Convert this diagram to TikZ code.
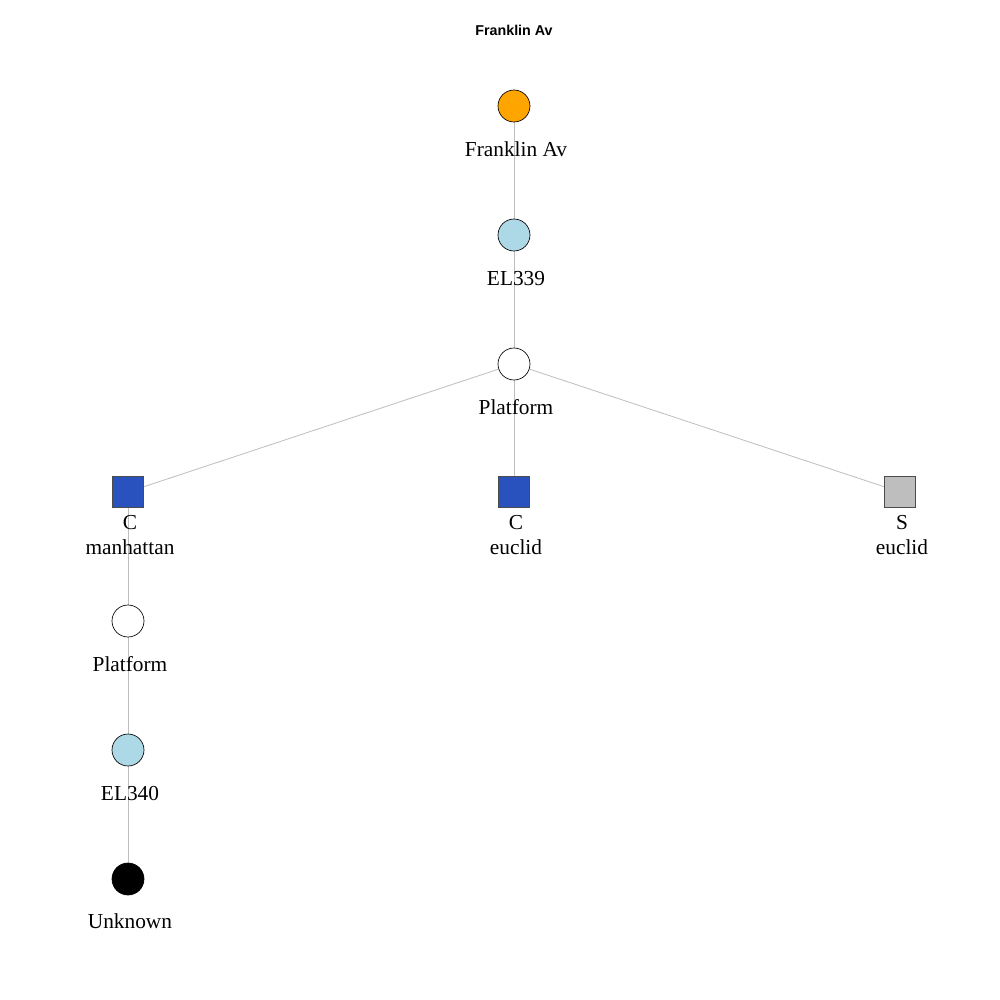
\documentclass[tikz,border=0pt]{standalone}
\usepackage{fontspec}
\setmainfont{Liberation Serif}
\newfontfamily\titlefont{Liberation Sans}
\usetikzlibrary{backgrounds}
\definecolor{stnorange}{HTML}{FFA500}
\definecolor{stnlblue}{HTML}{ADD8E6}
\definecolor{stnblue}{HTML}{2A52BE}
\definecolor{stngray}{HTML}{BEBEBE}
\definecolor{edgegray}{HTML}{BEBEBE}
\tikzset{
  vcirc/.style={circle, draw=black, line width=0.5pt, minimum size=24pt, inner sep=0pt},
  vsq/.style={rectangle, draw=black!70, line width=0.6pt, minimum size=23pt, inner sep=0pt},
  vlabel/.style={anchor=base, font=\fontsize{16}{18.8}\selectfont, inner sep=0pt},
  vlabel2/.style={anchor=center, align=center, font=\fontsize{16}{18.8}\selectfont, inner sep=0pt},
  link/.style={draw=edgegray, line width=0.6pt},
}
\begin{document}
\begin{tikzpicture}[x=0.75pt, y=-0.75pt]
\begin{scope}[on background layer]
  \fill[white] (0,0) rectangle (1000,1000);
\end{scope}
\useasboundingbox (0,0) rectangle (1000,1000);

\node[font=\titlefont\bfseries\fontsize{10.7}{12}\selectfont] (title) at (514,30) {Franklin Av};

% vertices
\node[vcirc, fill=stnorange] (fa) at (514,106) {};
\node[vcirc, fill=stnlblue] (el339) at (514,235) {};
\node[vcirc, fill=white] (pf1) at (514,364) {};
\node[vsq, fill=stnblue] (cman) at (128,492) {};
\node[vsq, fill=stnblue] (ceuc) at (514,492) {};
\node[vsq, fill=stngray] (seuc) at (900,492) {};
\node[vcirc, fill=white] (pf2) at (128,621) {};
\node[vcirc, fill=stnlblue] (el340) at (128,750) {};
\node[vcirc, fill=black] (unk) at (128,879) {};

% vertex labels
\node[vlabel] (lfa) at (516,156) {Franklin Av};
\node[vlabel] (lel339) at (516,285) {EL339};
\node[vlabel] (lpf1) at (516,414) {Platform};
\node[vlabel2] (lcman) at (130,535) {C\\manhattan};
\node[vlabel2] (lceuc) at (516,535) {C\\euclid};
\node[vlabel2] (lseuc) at (902,535) {S\\euclid};
\node[vlabel] (lpf2) at (130,671) {Platform};
\node[vlabel] (lel340) at (130,800) {EL340};
\node[vlabel] (lunk) at (130,928) {Unknown};

% edges
\begin{scope}[on background layer]
  \draw[link] (fa.center) -- (el339.center);
  \draw[link] (el339.center) -- (pf1.center);
  \draw[link] (pf1.center) -- (cman.center);
  \draw[link] (pf1.center) -- (ceuc.center);
  \draw[link] (pf1.center) -- (seuc.center);
  \draw[link] (cman.center) -- (pf2.center);
  \draw[link] (pf2.center) -- (el340.center);
  \draw[link] (el340.center) -- (unk.center);
\end{scope}
\end{tikzpicture}
\end{document}
